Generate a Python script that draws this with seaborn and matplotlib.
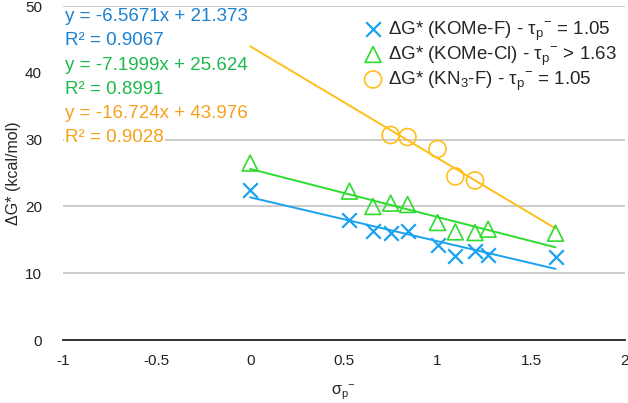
import numpy as np
import pandas as pd
import seaborn as sns
import matplotlib
matplotlib.use("Agg")
import matplotlib.pyplot as plt

# sigma_p- values and free energies
sigma_f = [0.0, 0.53, 0.655, 0.75, 0.84, 1.0, 1.095, 1.2, 1.27, 1.63]
dg_kome_f = [22.4, 18.0, 16.4, 16.1, 16.4, 14.3, 12.6, 13.3, 12.7, 12.4]
dg_kome_cl = [26.5, 22.3, 20.0, 20.5, 20.3, 17.6, 16.2, 16.1, 16.6, 16.0]
sigma_n3 = [0.75, 0.84, 1.0, 1.095, 1.2]
dg_kn3_f = [30.7, 30.4, 28.6, 24.5, 23.9]

# trendline coefficients (slope, intercept, R2) as printed on the chart
fits = [(-6.5671, 21.373, 0.9067), (-7.1999, 25.624, 0.8991), (-16.724, 43.976, 0.9028)]

labels = ["ΔG* (KOMe-F) - τ$_\\mathregular{p}$$^{\\mathregular{−}}$ = 1.05",
          "ΔG* (KOMe-Cl) - τ$_\\mathregular{p}$$^{\\mathregular{−}}$ > 1.63",
          "ΔG* (KN$_\\mathregular{3}$-F) - τ$_\\mathregular{p}$$^{\\mathregular{−}}$ = 1.05"]
mark_colors = ["#1AA2F0", "#2EDC2E", "#FFBE1A"]
text_colors = ["#1B82D2", "#1DBA4C", "#F7A01E"]

sns.set_style("white")
plt.rcParams["font.family"] = ["Liberation Sans", "DejaVu Sans"]

fig, ax = plt.subplots(figsize=(6.28, 4.03), dpi=100)
fig.subplots_adjust(left=0.1, right=0.995, bottom=0.156, top=0.985)

series = [(sigma_f, dg_kome_f, "x"), (sigma_f, dg_kome_cl, "^"), (sigma_n3, dg_kn3_f, "o")]
for i, (xs, ys, m) in enumerate(series):
    df = pd.DataFrame({"x": xs, "y": ys})
    if m == "x":
        sns.scatterplot(data=df, x="x", y="y", ax=ax, marker=m, s=110, color=mark_colors[i],
                        linewidth=1.6, label=labels[i], zorder=3)
    else:
        sns.scatterplot(data=df, x="x", y="y", ax=ax, marker=m, s=150 if m == "o" else 130,
                        facecolor="none", edgecolor=mark_colors[i], color=mark_colors[i],
                        linewidth=1.2, label=labels[i], zorder=3)

# trendlines over the sigma range
xr = np.array([min(sigma_f), max(sigma_f)])
for i, (a, b, r2) in enumerate(fits):
    line = pd.DataFrame({"x": xr, "y": a * xr + b})
    sns.lineplot(data=line, x="x", y="y", ax=ax, color=mark_colors[i], linewidth=1.4, zorder=2)

ax.set_xlim(-1, 2)
ax.set_ylim(0, 50)
ax.set_xticks([-1, -0.5, 0, 0.5, 1, 1.5, 2])
ax.set_xticklabels(["-1", "-0.5", "0", "0.5", "1", "1.5", "2"])
ax.set_yticks([0, 10, 20, 30, 40, 50])
ax.tick_params(axis="both", labelsize=11, length=0, colors="#222222")
ax.tick_params(axis="y", pad=15)
ax.tick_params(axis="x", pad=10)
ax.yaxis.grid(True, color="#c8c8c8", linewidth=1.3)
ax.set_axisbelow(True)
for s in ["top", "right", "left"]:
    ax.spines[s].set_visible(False)
ax.spines["bottom"].set_color("#222222")
ax.spines["bottom"].set_linewidth(1.3)
ax.spines["bottom"].set_zorder(4)
# the 40 line sits behind the labels in the original
ax.get_ygridlines()[4].set_visible(False)

ax.set_xlabel("σ$_\\mathregular{p}$$^{\\mathregular{−}}$", fontsize=11.5)
ax.set_ylabel("ΔG* (kcal/mol)", fontsize=11.5)
ax.xaxis.set_label_coords(0.5, -0.128)
ax.yaxis.set_label_coords(-0.075, 0.5)

# equation labels
eq_lines = []
for i, (a, b, r2) in enumerate(fits):
    eq_lines.append((f"y = {a:g}x + {b:g}", text_colors[i]))
    eq_lines.append((f"R² = {r2:g}", text_colors[i]))
for k, (t, c) in enumerate(eq_lines):
    ax.text(0.004, 0.968 - k * 0.0725, t, transform=ax.transAxes, color=c, fontsize=13.5,
            va="center", ha="left", bbox=dict(facecolor="white", edgecolor="none", pad=1.0), zorder=5)

leg = ax.legend(loc="upper left", bbox_to_anchor=(0.512, 1.0), frameon=True, fontsize=13.5,
                handletextpad=0.3, labelspacing=0.08, borderpad=0.2, handlelength=1.0)
leg.get_frame().set_edgecolor("none")
leg.get_frame().set_alpha(1.0)

fig.savefig("out.png", dpi=100)
